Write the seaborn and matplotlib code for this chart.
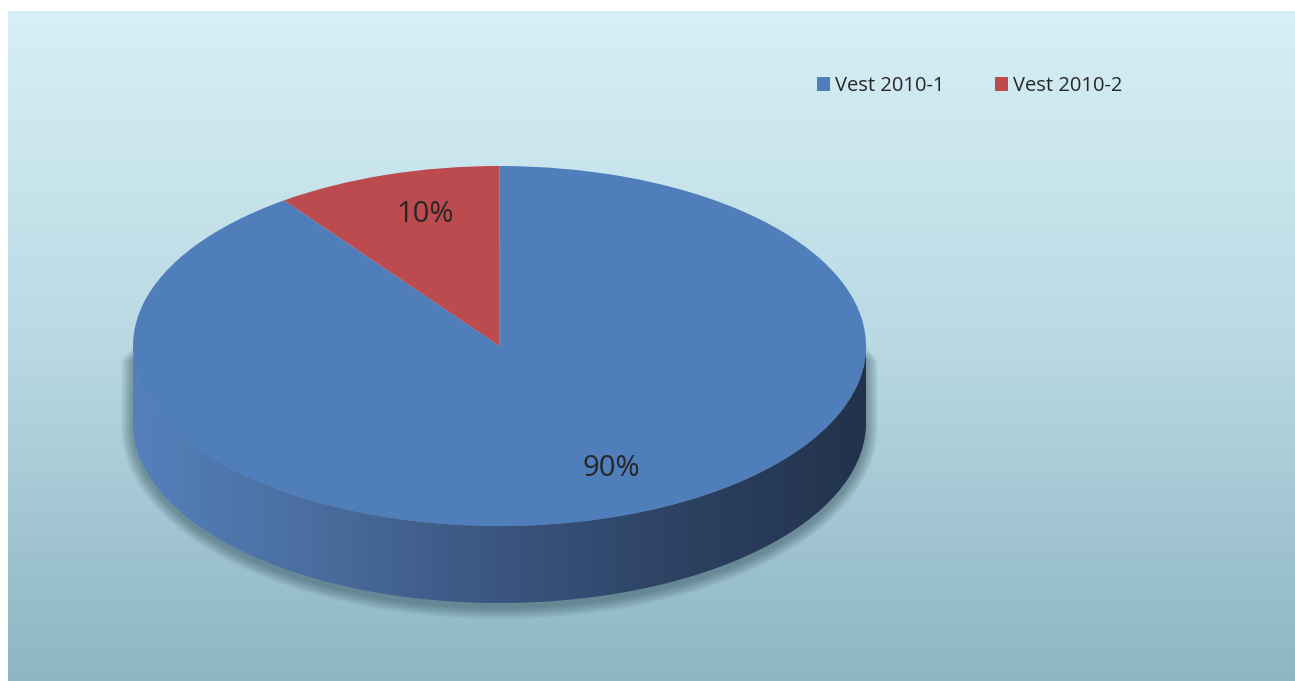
import numpy as np
import matplotlib
matplotlib.use("Agg")
import matplotlib.pyplot as plt
from matplotlib.colors import LinearSegmentedColormap
from matplotlib.patches import Polygon
import seaborn as sns

# ---- data ----
categories = ["Vest 2010-1", "Vest 2010-2"]
values = [90, 10]
colors = ["#4f7ebb", "#bc4b50"]

sns.set_theme(style="white")
plt.rcParams["font.family"] = ["Open Sans", "DejaVu Sans"]

W, H = 1295, 681
fig = plt.figure(figsize=(W / 100, H / 100), dpi=100, facecolor="white")

# background gradient panel
bg = fig.add_axes([8 / W, 0, 1 - 8 / W, (H - 11) / H])
grad = np.linspace(0, 1, 256).reshape(-1, 1)
bg_cmap = LinearSegmentedColormap.from_list("bg", ["#d7eff6", "#b9d9e3", "#8db5c3"])
bg.imshow(grad, aspect="auto", cmap=bg_cmap, extent=[0, 1, 0, 1], origin="upper")
bg.set_axis_off()

# pie axes: whole figure, data units chosen so unit circle maps to the ellipse
cx, cy = 499.5, 346.0      # pixel centre (from top)
rx, ry = 366.5, 180.0      # pixel semi-axes
depth = 77.0 / ry          # wall height in data units

ax = fig.add_axes([0, 0, 1, 1])
ax.patch.set_alpha(0)

# soft shadow around the lower part of the cylinder
tl = np.linspace(np.pi, 2 * np.pi, 200)
for g in range(12, 0, -1):
    sx = 1 + g / rx
    sy = 1 + g / ry
    arc = np.c_[np.cos(tl) * sx, np.sin(tl) * sy - depth - 4 / ry]
    ytop = -(g * 1.2) / ry
    pts = np.vstack([[[-sx, ytop]], arc, [[sx, ytop]]])
    ax.add_patch(Polygon(pts, closed=True, facecolor="#17303c", edgecolor="none",
                         alpha=0.035, zorder=1))

# front wall with horizontal gradient
wall_top = np.c_[np.cos(tl), np.sin(tl)]
wall_bot = np.c_[np.cos(tl[::-1]), np.sin(tl[::-1]) - depth]
wall = Polygon(np.vstack([wall_top, wall_bot]), closed=True, facecolor="none",
               edgecolor="none", zorder=2)
ax.add_patch(wall)
wall_cmap = LinearSegmentedColormap.from_list(
    "wall", ["#5580bc", "#4a6d9e", "#3a5580", "#2c4262", "#22324c"])
xg = np.linspace(0, 1, 256).reshape(1, -1)
im = ax.imshow(xg, aspect="auto", cmap=wall_cmap, extent=[-1, 1, -1 - depth, 0],
               zorder=2, interpolation="bilinear")
im.set_clip_path(wall)

# top face
wedges, texts, autotexts = ax.pie(
    values, colors=colors, startangle=90, counterclock=False, radius=1,
    autopct="%1.0f%%", pctdistance=0.75,
    wedgeprops=dict(linewidth=0, zorder=3),
    textprops=dict(fontsize=21, color="#262626"))
for w in wedges:
    w.set_zorder(3)

label_px = [(611, 469), (425, 214)]
for txt, (px, py) in zip(autotexts, label_px):
    txt.set_position(((px - cx) / rx, (cy - py) / ry))
    txt.set_zorder(4)
    txt.set_va("center")
    txt.set_ha("center")

ax.set_aspect("auto")
ax.set_xlim(-cx / rx, (W - cx) / rx)
ax.set_ylim(-(H - cy) / ry, cy / ry)
ax.set_axis_off()

leg = fig.legend(wedges, categories, loc="center left",
                 bbox_to_anchor=(799 / W, 1 - 86 / H), ncol=2, frameon=False,
                 fontsize=14.5, handlelength=0.65, handleheight=0.65,
                 handletextpad=0.25, columnspacing=2.5, labelcolor="#262626")

fig.savefig("out.png", dpi=100, facecolor="white")
